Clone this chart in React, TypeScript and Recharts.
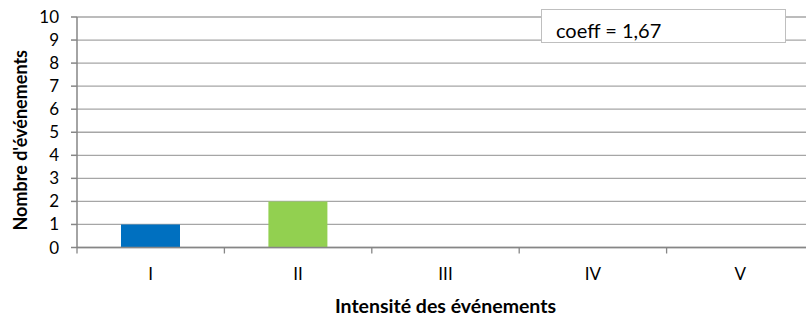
import React from "react";
import { BarChart, Bar, XAxis, YAxis, CartesianGrid, Cell } from "recharts";

const categories = ["I", "II", "III", "IV", "V"];
const counts = [1, 2, 0, 0, 0];
const barColors = ["#0070C0", "#92D050", "#0070C0", "#0070C0", "#0070C0"];
const yTicks = [0, 1, 2, 3, 4, 5, 6, 7, 8, 9, 10];
const coeffText = "coeff = 1,67";
const xTitle = "Intensité des événements";
const yTitle = "Nombre d'événements";

const data = categories.map((c, i) => ({ cat: c, value: counts[i] }));

const FONT = "Lato, 'Open Sans', sans-serif";

const XTick = (props: any) => {
  const { x, y, payload } = props;
  const left = x - (payload.offset || 0);
  return (
    <g>
      <line x1={left} y1={y} x2={left} y2={y + 6} stroke="#868686" strokeWidth={1.3} />
      <text x={x} y={y + 28} textAnchor="middle" dominantBaseline="middle" fontSize={17} fill="#000" fontFamily={FONT}>
        {payload.value}
      </text>
    </g>
  );
};

export default function App() {
  return (
    <div style={{ position: "absolute", left: 0, top: 0, width: 806, height: 318, overflow: "hidden", background: "#fff" }}>
      <BarChart
        width={830}
        height={318}
        data={data}
        margin={{ top: 17, right: 16, left: 0, bottom: 0 }}
        barCategoryGap={0}
      >
        <CartesianGrid vertical={false} stroke="#a6a6a6" strokeWidth={1.3} />
        <XAxis
          dataKey="cat"
          height={70.5}
          tickLine={false}
          tickSize={0}
          tickMargin={0}
          interval={0}
          stroke="#868686"
          strokeWidth={1.5}
          tick={<XTick />}
          label={{ value: xTitle, position: "center", dy: 23, fontSize: 19.5, fontWeight: "bold", fill: "#000", fontFamily: FONT }}
        />
        <YAxis
          width={77}
          domain={[0, 10]}
          ticks={yTicks}
          interval={0}
          tickSize={6}
          tickMargin={12}
          stroke="#868686"
          strokeWidth={1.5}
          tick={{ fontSize: 17, fill: "#000", fontFamily: FONT }}
          label={{ value: yTitle, angle: -90, position: "center", dx: -18, dy: 8, fontSize: 18, fontWeight: "bold", fill: "#000", fontFamily: FONT }}
        />
        <Bar dataKey="value" barSize={59} isAnimationActive={false}>
          {data.map((d, i) => (
            <Cell key={d.cat} fill={barColors[i]} />
          ))}
        </Bar>
      </BarChart>
      <div
        style={{
          position: "absolute",
          left: 541,
          top: 9,
          width: 245,
          height: 34,
          border: "1.5px solid #bfbfbf",
          background: "#fff",
          fontFamily: FONT,
          fontSize: 20,
          color: "#000",
          boxSizing: "border-box",
          paddingLeft: 14,
          paddingTop: 9,
          lineHeight: "22px",
        }}
      >
        {coeffText}
      </div>
    </div>
  );
}
